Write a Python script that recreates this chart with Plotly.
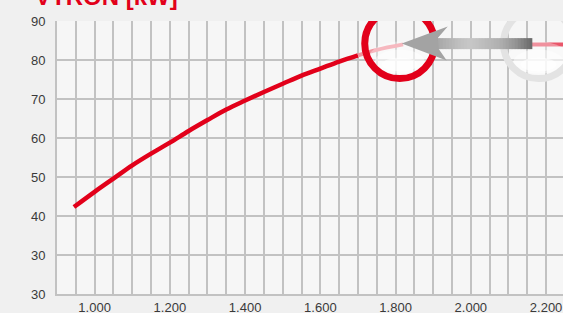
import plotly.graph_objects as go

# ---- data ----
rpm_main = [945, 1000, 1050, 1100, 1150, 1200, 1250, 1300, 1350, 1400, 1450, 1500, 1550, 1600, 1650, 1700]
kw_main = [42.3, 46.2, 49.6, 53.0, 56.0, 58.8, 61.8, 64.6, 67.3, 69.6, 71.8, 73.9, 76.0, 77.8, 79.6, 81.2]
rpm_fade = [1700, 1750, 1820]
kw_fade = [81.2, 82.6, 84.0]
rpm_right = [2162, 2250]
kw_right = [84.0, 84.0]

x_tickvals = list(range(900, 2250, 50))
x_label_map = {1000: "1.000", 1200: "1.200", 1400: "1.400", 1600: "1.600",
               1800: "1.800", 2000: "2.000", 2200: "2.200"}
x_ticktext = [x_label_map.get(v, "") for v in x_tickvals]
y_tickvals = [20, 30, 40, 50, 60, 70, 80, 90]
y_ticktext = ["30", "30", "40", "50", "60", "70", "80", "90"]

RED = "#e2001a"
GRID = "#c2c2c2"

fig = go.Figure()
fig.add_trace(go.Scatter(x=rpm_main, y=kw_main, mode="lines", line=dict(color=RED, width=4.5, shape="spline"),
                         hoverinfo="skip", showlegend=False))
fig.add_trace(go.Scatter(x=rpm_fade, y=kw_fade, mode="lines", line=dict(color="#f2939d", width=4, shape="spline"),
                         hoverinfo="skip", showlegend=False))
fig.add_trace(go.Scatter(x=rpm_right, y=kw_right, mode="lines", line=dict(color="#e9566a", width=4),
                         hoverinfo="skip", showlegend=False))

shapes = []
# circle anchors (data coords)
red_cx, red_cy = 1811, 84.2
gray_cx, gray_cy = 2180, 84.2

def glow(cx, cy):
    out = []
    for (w, h, dy, op) in [(62, 34, -15, 0.35), (50, 24, -18, 0.45), (36, 14, -21, 0.6)]:
        out.append(dict(type="circle", xref="x", yref="y", xsizemode="pixel", ysizemode="pixel",
                        xanchor=cx, yanchor=cy, x0=-w / 2, x1=w / 2, y0=dy - h / 2, y1=dy + h / 2,
                        fillcolor="white", opacity=op, line=dict(width=0), layer="above"))
    return out

shapes += glow(red_cx, red_cy)
shapes += glow(gray_cx, gray_cy)
shapes.append(dict(type="circle", xref="x", yref="y", xsizemode="pixel", ysizemode="pixel",
                   xanchor=gray_cx, yanchor=gray_cy, x0=-35, x1=35, y0=-35, y1=35,
                   line=dict(color="#e3e3e3", width=7), layer="above"))
shapes.append(dict(type="circle", xref="x", yref="y", xsizemode="pixel", ysizemode="pixel",
                   xanchor=red_cx, yanchor=red_cy, x0=-35, x1=35, y0=-35, y1=35,
                   line=dict(color=RED, width=7), layer="above"))

# arrow shaft as gradient slices
stops = [(38, (168, 168, 168)), (60, (192, 192, 192)), (70, (200, 200, 200)), (100, (176, 176, 176)),
         (115, (150, 150, 150)), (125, (125, 125, 125)), (132, (105, 105, 105))]

def col_at(px):
    for (a, ca), (b, cb) in zip(stops[:-1], stops[1:]):
        if a <= px <= b:
            t = (px - a) / (b - a)
            return "rgb(%d,%d,%d)" % tuple(int(ca[i] + (cb[i] - ca[i]) * t) for i in range(3))
    return "rgb(105,105,105)"

p = 37
while p < 132:
    q = min(p + 3, 132)
    shapes.append(dict(type="rect", xref="x", yref="y", xsizemode="pixel", ysizemode="pixel",
                       xanchor=red_cx, yanchor=red_cy, x0=p, x1=q + 0.6, y0=-5.5, y1=5.5,
                       fillcolor=col_at((p + q) / 2), line=dict(width=0), layer="above"))
    p = q
# arrow head
shapes.append(dict(type="path", xref="x", yref="y", xsizemode="pixel", ysizemode="pixel",
                   xanchor=red_cx, yanchor=red_cy,
                   path="M 2 0 L 48 17 L 38 5.5 L 39 -5.5 L 47 -17 Z",
                   fillcolor="#a3a3a3", line=dict(width=0), layer="above"))

fig.update_layout(
    width=563, height=313,
    margin=dict(l=57, r=0, t=21, b=19),
    paper_bgcolor="#f0f0f0",
    plot_bgcolor="#f6f6f6",
    font=dict(family="Liberation Sans, Arial, sans-serif", size=13, color="#3a3a3a"),
    shapes=shapes,
    xaxis=dict(range=[900, 2245], tickmode="array", tickvals=x_tickvals, ticktext=x_ticktext,
               showgrid=True, gridcolor=GRID, gridwidth=2, zeroline=False, automargin=False,
               showline=True, linecolor=GRID, linewidth=2, ticks=""),
    yaxis=dict(range=[20, 90], tickmode="array", tickvals=y_tickvals, ticktext=y_ticktext,
               showgrid=True, gridcolor=GRID, gridwidth=2, zeroline=False, automargin=False,
               showline=True, linecolor=GRID, linewidth=2,
               ticks="outside", ticklen=7, tickcolor="rgba(0,0,0,0)"),
    annotations=[dict(text="<b>VTRON [kW]</b>", xref="paper", yref="paper", x=-0.047, y=1.033,
                      xanchor="left", yanchor="bottom", showarrow=False,
                      font=dict(family="Liberation Sans, Arial, sans-serif", size=24, color=RED))],
)

fig.write_html("out.html", config={"displayModeBar": False},
               post_script="document.body.style.margin='0';document.body.style.padding='0';"
                           "document.body.style.overflow='hidden';")
